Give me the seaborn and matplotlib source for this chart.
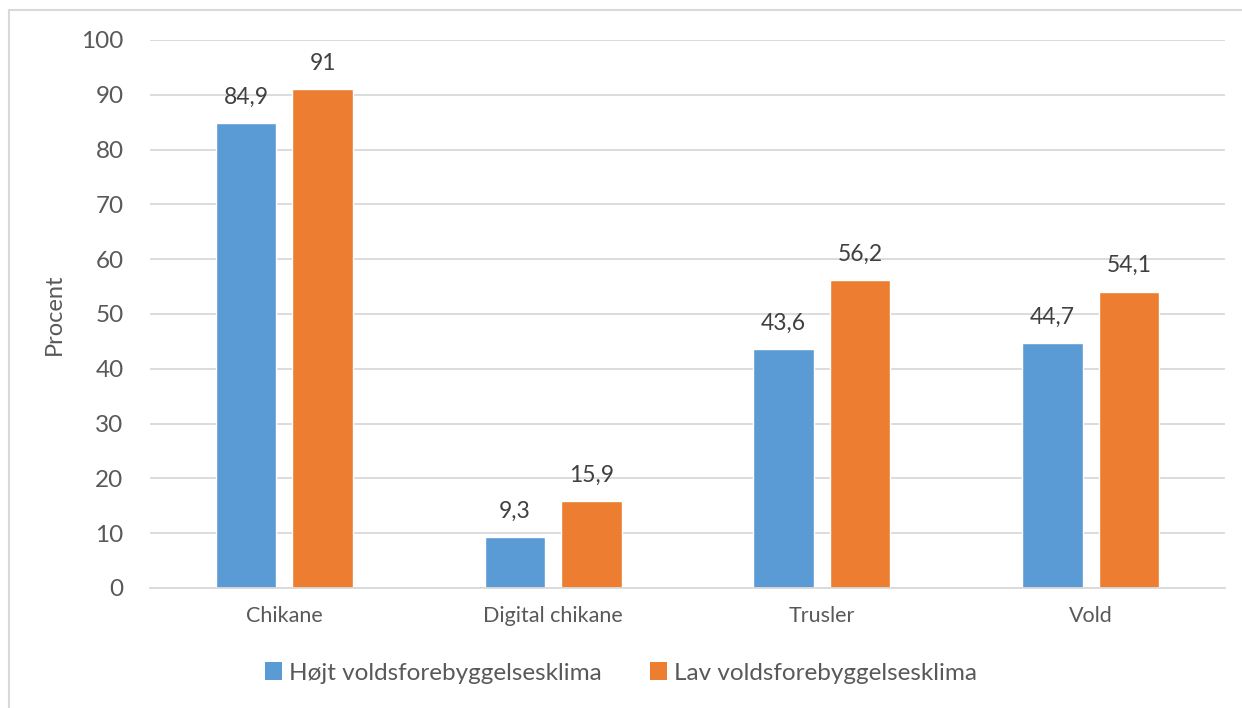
import pandas as pd
import seaborn as sns
import matplotlib.pyplot as plt
from matplotlib.patches import Patch
from matplotlib.lines import Line2D

# -------------------------------
# Data
# -------------------------------
categories = ["Chikane", "Digital chikane", "Trusler", "Vold"]
groups = ["Højt voldsforebyggelsesklima", "Lav voldsforebyggelsesklima"]
hojt = [84.9, 9.3, 43.6, 44.7]
lav = [91, 15.9, 56.2, 54.1]
colors = ["#5B9BD5", "#ED7D31"]

df = pd.DataFrame({
    "Kategori": categories * 2,
    "Gruppe": [groups[0]] * 4 + [groups[1]] * 4,
    "Procent": hojt + lav,
})

# -------------------------------
# Plot
# -------------------------------
sns.set_style("white")
plt.rcParams["font.family"] = ["Lato", "DejaVu Sans"]

fig = plt.figure(figsize=(12.42, 7.08), dpi=100)
ax = fig.add_axes([150 / 1242, 1 - 588 / 708, 1075 / 1242, 548 / 708])

sns.barplot(data=df, x="Kategori", y="Procent", hue="Gruppe",
            palette=colors, saturation=1, width=0.57, gap=0.21,
            ax=ax, legend=False)

for cont in ax.containers:
    ax.bar_label(cont, labels=[f"{v:g}".replace(".", ",") for v in cont.datavalues],
                 padding=11, fontsize=16.5, color="#404040")

ax.set_ylim(0, 100)
ax.set_xlim(-0.5, 3.5)
ax.set_yticks(range(0, 101, 10))
ax.yaxis.grid(True, color="#D9D9D9", linewidth=1.3)
ax.set_axisbelow(True)
for s in ["left", "right", "top"]:
    ax.spines[s].set_visible(False)
ax.spines["bottom"].set_color("#D9D9D9")
ax.spines["bottom"].set_linewidth(1.3)

ax.tick_params(axis="y", length=0, pad=19, labelsize=17.5, labelcolor="#595959")
ax.tick_params(axis="x", length=0, pad=13, labelsize=15.5, labelcolor="#595959")
ax.set_xlabel("")
ax.set_ylabel("Procent", fontsize=17, color="#595959", labelpad=12)

handles = [Patch(facecolor=c, edgecolor="none") for c in colors]
fig.legend(handles, groups, loc="center", bbox_to_anchor=(0.5, 1 - 673 / 708),
           ncol=2, frameon=False, fontsize=17.5, labelcolor="#595959",
           handlelength=0.7, handleheight=0.7, handletextpad=0.3, columnspacing=2.0)

# chart frame
fig.add_artist(Line2D([9 / 1242, 9 / 1242], [0, 1 - 10 / 708], color="#D9D9D9", lw=1.5))
fig.add_artist(Line2D([9 / 1242, 1], [1 - 10 / 708, 1 - 10 / 708], color="#D9D9D9", lw=1.5))

fig.savefig("out.png", dpi=100)
